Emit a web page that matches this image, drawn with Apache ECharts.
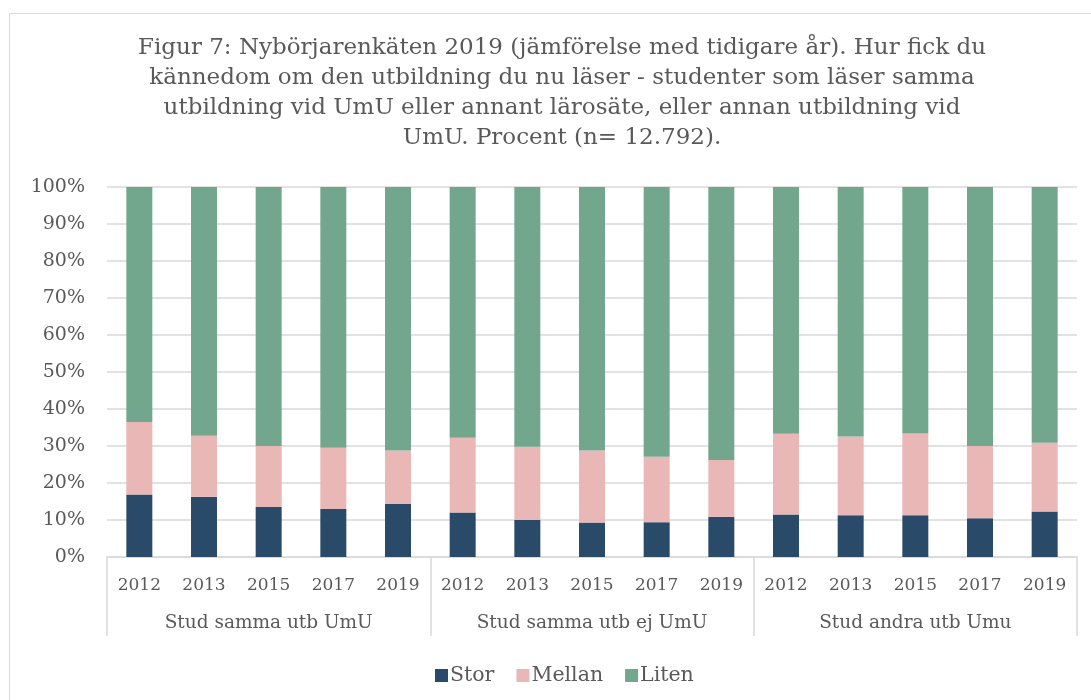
<!DOCTYPE html>
<html>
<head>
<meta charset="utf-8">
<script src="https://cdn.jsdelivr.net/npm/echarts@6/dist/echarts.min.js"></script>
<style>
  html, body { margin: 0; padding: 0; background: #ffffff; }
  #chart { width: 1091px; height: 700px; }
</style>
</head>
<body>
<div id="chart"></div>
<script>
// ---- data ----
var titleText = 'Figur 7: Nybörjarenkäten 2019 (jämförelse med tidigare år). Hur fick du\nkännedom om den utbildning du nu läser - studenter som läser samma\nutbildning vid UmU eller annant lärosäte, eller annan utbildning vid\nUmU. Procent (n= 12.792).';
var groups = ['Stud samma utb UmU', 'Stud samma utb ej UmU', 'Stud andra utb Umu'];
var years = ['2012', '2013', '2015', '2017', '2019',
             '2012', '2013', '2015', '2017', '2019',
             '2012', '2013', '2015', '2017', '2019'];
var seriesNames = ['Stor', 'Mellan', 'Liten'];
var stor   = [16.9, 16.3, 13.5, 13.0, 14.3, 12.0, 10.0, 9.3, 9.4, 10.9, 11.5, 11.3, 11.3, 10.5, 12.3];
var mellan = [19.6, 16.5, 16.5, 16.5, 14.5, 20.2, 19.8, 19.5, 17.7, 15.3, 21.8, 21.3, 22.1, 19.5, 18.6];
var liten  = [63.5, 67.2, 70.0, 70.5, 71.2, 67.8, 70.2, 71.2, 72.9, 73.8, 66.7, 67.4, 66.6, 70.0, 69.1];

var FONT = '"DejaVu Serif", "Liberation Serif", serif';
var TXT = '#595959';
var colors = ['#2a4a69', '#e9b8b6', '#72a78e'];

var chart = echarts.init(document.getElementById('chart'), null, { renderer: 'canvas' });
chart.setOption({
  animation: false,
  backgroundColor: '#ffffff',
  color: colors,
  textStyle: { fontFamily: FONT },
  graphic: [{
    type: 'rect',
    shape: { x: 9.5, y: 13.5, width: 1200, height: 800 },
    style: { fill: 'none', stroke: '#d9d9d9', lineWidth: 1 },
    silent: true,
    z: -10
  }],
  title: {
    text: titleText,
    left: 562,
    top: 33,
    padding: 0,
    textAlign: 'center',
    textStyle: { fontFamily: FONT, fontSize: 23, fontWeight: 'normal', color: TXT, lineHeight: 30 }
  },
  legend: {
    data: seriesNames,
    left: 430,
    top: 660,
    icon: 'rect',
    itemWidth: 13,
    itemHeight: 13,
    itemGap: 22,
    textStyle: { fontFamily: FONT, fontSize: 20.5, color: TXT, padding: [0, 0, 0, -3] }
  },
  grid: { left: 107, right: 14, top: 187, bottom: 143, containLabel: false },
  xAxis: [{
    type: 'category',
    data: years,
    position: 'bottom',
    axisLine: { show: true, lineStyle: { color: '#d9d9d9', width: 1.5 } },
    axisTick: { show: false },
    axisLabel: { interval: 0, margin: 20, fontFamily: FONT, fontSize: 17, color: TXT }
  }, {
    type: 'category',
    data: groups,
    position: 'bottom',
    axisLine: { show: false },
    axisTick: { show: true, length: 79, interval: 0, lineStyle: { color: '#d9d9d9', width: 1.5 } },
    axisLabel: { interval: 0, margin: 57, fontFamily: FONT, fontSize: 18.5, color: TXT }
  }],
  yAxis: {
    type: 'value',
    min: 0,
    max: 100,
    interval: 10,
    axisLine: { show: false },
    axisTick: { show: false },
    splitLine: { lineStyle: { color: '#d9d9d9', width: 1.5 } },
    axisLabel: { formatter: '{value}%', margin: 22, fontFamily: FONT, fontSize: 19, color: TXT }
  },
  series: [
    { name: seriesNames[0], type: 'bar', stack: 'total', data: stor,   barWidth: 26, xAxisIndex: 0 },
    { name: seriesNames[1], type: 'bar', stack: 'total', data: mellan, barWidth: 26, xAxisIndex: 0 },
    { name: seriesNames[2], type: 'bar', stack: 'total', data: liten,  barWidth: 26, xAxisIndex: 0 }
  ]
});
</script>
</body>
</html>
